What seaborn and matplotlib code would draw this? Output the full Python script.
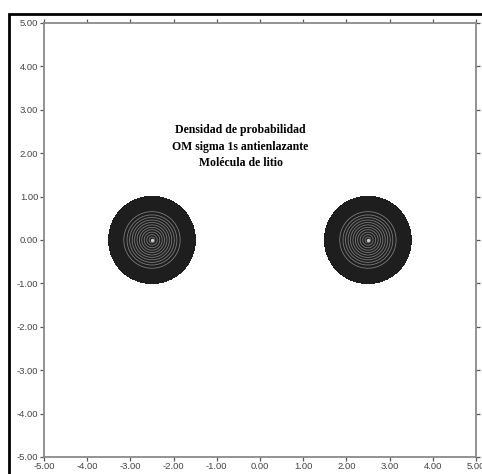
import numpy as np
import matplotlib
matplotlib.use("Agg")
import matplotlib.pyplot as plt
from matplotlib.patches import Rectangle
import seaborn as sns

# nuclei of the Li2 molecule and Slater exponent of the 1s orbital
nuclei_x = [-2.5, 2.5]
nuclei_y = [0.0, 0.0]
zeta_1s = 2.69

# density levels: outer filled region and the contour rings inside it
fill_level = [0.0045, 10.0]
ring_levels = [0.03, 0.045, 0.062, 0.085, 0.115, 0.155, 0.21, 0.28, 0.38, 0.52, 0.7]

ticks = [-5, -4, -3, -2, -1, 0, 1, 2, 3, 4, 5]
title_lines = ["Densidad de probabilidad", "OM sigma 1s antienlazante", "Molécula de litio"]

sns.set_style("ticks")

# probability density of sigma*1s = 1s_A - 1s_B (peak normalised to 1)
g = np.linspace(-5, 5, 501)
X, Y = np.meshgrid(g, g)
rA = np.hypot(X - nuclei_x[0], Y - nuclei_y[0])
rB = np.hypot(X - nuclei_x[1], Y - nuclei_y[1])
psi = np.exp(-zeta_1s * rA) - np.exp(-zeta_1s * rB)
dens = psi ** 2

fig = plt.figure(figsize=(4.82, 4.74), dpi=100)
ax = fig.add_axes([0.0913, 0.036, 0.896, 0.9156])

ax.contourf(X, Y, dens, levels=fill_level, colors=["#1e1e1e"])
ax.contour(X, Y, dens, levels=ring_levels, colors="#7a7a7a", linewidths=0.6)
ax.scatter(nuclei_x, nuclei_y, s=2, color="#d0d0d0", zorder=3)

ax.set_xlim(-5, 5)
ax.set_ylim(-5, 5)
ax.set_xticks(ticks)
ax.set_yticks(ticks)
ax.set_xticklabels([f"{t:.2f}" for t in ticks])
ax.set_yticklabels([f"{t:.2f}" for t in ticks])
ax.tick_params(axis="both", which="both", direction="out", length=3, width=0.9,
               color="#555555", labelsize=6.8, labelcolor="#444444", pad=1,
               top=True, right=True)
for lab in ax.get_xticklabels() + ax.get_yticklabels():
    lab.set_family(["Liberation Sans", "DejaVu Sans"])
for s in ax.spines.values():
    s.set_color("#8a8a8a")
    s.set_linewidth(1.3)

ax.text(-0.45, 2.15, "\n".join(title_lines), ha="center", va="center",
        fontsize=8.5, fontweight="bold", family=["Liberation Serif", "DejaVu Serif"],
        linespacing=1.5, color="#000000")

# outer black frame around the figure
fig.patches.append(Rectangle((9 / 482, -0.05), 1.1, 1 - 14 / 474 + 0.05,
                             transform=fig.transFigure, fill=False,
                             edgecolor="black", linewidth=2, zorder=10))

fig.savefig("out.png", dpi=100)
